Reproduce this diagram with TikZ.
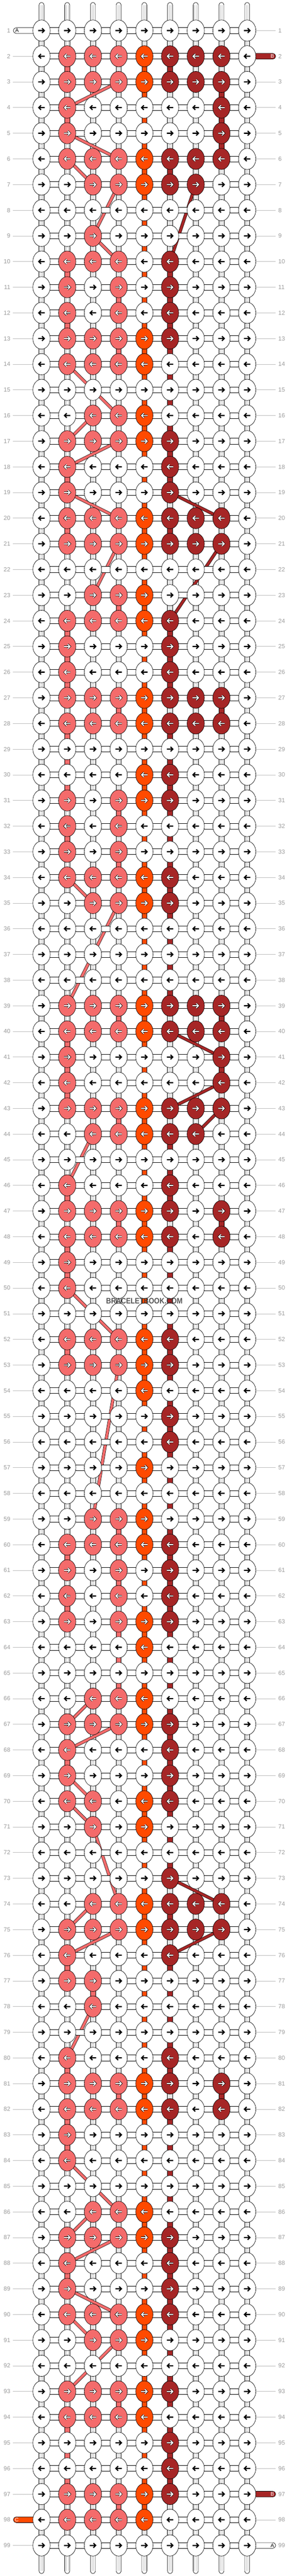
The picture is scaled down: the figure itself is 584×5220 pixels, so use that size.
\documentclass[tikz,border=0pt]{standalone}
\usepackage{fontspec}
\setmainfont{Liberation Sans}
\usetikzlibrary{shapes.geometric}
\definecolor{cP}{HTML}{F46B6B}
\definecolor{cO}{HTML}{FF4A00}
\definecolor{cR}{HTML}{A62626}
\definecolor{lblgrey}{HTML}{9A9A9A}
\definecolor{linegrey}{HTML}{BBBBBB}
\definecolor{tubegrey}{HTML}{C4C4C4}
\definecolor{wmgrey}{HTML}{383838}
\pgfdeclarelayer{bgl}\pgfdeclarelayer{vs}\pgfdeclarelayer{dg}\pgfdeclarelayer{hs}
\pgfsetlayers{bgl,vs,dg,hs,main}
\def\knotrows{%
{W,W,W,W,W,W,W,W,W},{W,P,P,P,O,R,R,R,W},{W,P,P,P,O,R,R,R,W},{W,P,W,W,W,W,W,R,W},{W,P,W,W,W,W,W,R,W},%
{W,P,P,P,O,R,R,R,W},{W,W,P,P,O,R,R,W,W},{W,W,W,W,W,W,W,W,W},{W,W,P,W,W,W,W,W,W},{W,P,P,P,W,R,W,W,W},%
{W,P,W,P,W,R,W,W,W},{W,P,W,P,W,R,W,W,W},{W,P,P,P,O,R,W,W,W},{W,P,P,P,O,W,W,W,W},{W,W,W,W,W,W,W,W,W},%
{W,W,P,P,O,W,W,W,W},{W,P,P,P,O,R,W,W,W},{W,P,W,W,W,R,W,W,W},{W,P,W,W,W,R,W,W,W},{W,P,P,P,O,R,R,R,W},%
{W,P,P,P,O,R,R,R,W},{W,W,W,W,W,W,W,W,W},{W,W,P,P,O,W,W,W,W},{W,P,P,P,O,R,W,W,W},{W,P,W,W,W,R,W,W,W},%
{W,P,W,W,W,R,W,W,W},{W,P,P,P,O,R,R,R,W},{W,P,P,P,O,R,R,R,W},{W,W,W,W,W,W,W,W,W},{W,W,W,W,O,R,W,W,W},%
{W,P,W,P,O,R,W,W,W},{W,P,W,P,W,W,W,W,W},{W,P,W,P,W,W,W,W,W},{W,P,P,P,O,R,W,W,W},{W,W,P,P,O,R,W,W,W},%
{W,W,W,W,W,W,W,W,W},{W,W,W,W,W,W,W,W,W},{W,W,W,W,W,W,W,W,W},{W,P,P,P,O,R,R,R,W},{W,P,P,P,O,R,R,R,W},%
{W,P,W,W,W,W,W,R,W},{W,P,W,W,W,W,W,R,W},{W,P,P,P,O,R,R,R,W},{W,W,P,P,O,R,R,W,W},{W,W,W,W,W,W,W,W,W},%
{W,P,W,W,W,R,W,W,W},{W,P,P,P,O,R,W,R,W},{W,P,P,P,O,R,W,R,W},{W,P,W,W,W,W,W,W,W},{W,P,W,W,W,W,W,W,W},%
{W,W,W,W,W,W,W,W,W},{W,P,P,P,O,R,W,W,W},{W,P,P,P,O,R,W,W,W},{W,W,W,W,O,W,W,W,W},{W,W,W,W,W,R,W,W,W},%
{W,W,W,W,W,R,W,W,W},{W,W,W,W,O,W,W,W,W},{W,W,W,W,W,W,W,W,W},{W,W,P,P,O,W,W,W,W},{W,P,P,P,O,R,W,W,W},%
{W,P,W,P,W,R,W,W,W},{W,P,W,P,W,R,W,W,W},{W,P,W,P,O,R,W,W,W},{W,W,W,W,O,W,W,W,W},{W,W,W,W,W,W,W,W,W},%
{W,W,P,P,O,W,W,W,W},{W,P,P,P,O,R,W,W,W},{W,P,W,W,W,R,W,W,W},{W,P,W,W,W,R,W,W,W},{W,P,P,W,O,R,W,W,W},%
{W,W,P,W,O,W,W,W,W},{W,W,W,W,W,W,W,W,W},{W,W,W,W,W,R,W,W,W},{W,W,P,P,O,R,R,R,W},{W,P,P,P,O,R,R,R,W},%
{W,P,W,W,W,R,W,W,W},{W,P,P,W,W,W,W,W,W},{W,W,P,W,W,W,W,W,W},{W,W,W,W,W,W,W,W,W},{W,P,W,W,W,R,W,W,W},%
{W,P,P,P,O,R,W,R,W},{W,P,P,P,O,R,W,R,W},{W,P,W,W,W,W,W,W,W},{W,P,W,W,W,W,W,W,W},{W,W,W,W,W,W,W,W,W},%
{W,W,P,P,O,W,W,W,W},{W,P,P,P,O,R,W,W,W},{W,P,W,W,W,R,W,W,W},{W,P,W,W,W,R,W,W,W},{W,P,P,P,O,R,W,W,W},%
{W,W,P,P,O,W,W,W,W},{W,W,W,W,W,W,W,W,W},{W,P,P,P,O,R,W,W,W},{W,P,P,P,O,W,W,W,W},{W,W,W,W,W,R,W,W,W},%
{W,W,W,W,W,R,W,W,W},{W,P,P,P,O,R,W,W,W},{W,P,P,P,O,W,W,W,W},{W,W,W,W,W,W,W,W,W}}
\def\pinkstubs{2/2,4/2,10/2,11/4,12/2,13/4,18/2,20/2,23/4,24/2,25/2,26/2,27/4,28/2,29/2,30/2,31/4,32/2,33/4,%
39/4,40/2,41/2,42/2,43/4,46/2,47/4,48/2,49/2,52/2,59/4,60/2,61/4,62/2,63/4,64/4,65/4,68/2,76/2,77/3,80/2,%
81/4,82/2,83/2,88/2,93/4,94/2,95/2,96/2,97/4}
\def\redstubs{2/6,3/8,4/8,5/8,6/6,10/6,11/6,12/6,13/6,14/6,15/6,16/6,17/6,18/6,20/6,24/6,25/6,26/6,27/8,%
28/6,29/6,30/6,31/6,32/6,33/6,34/6,35/6,36/6,37/6,38/6,39/8,41/8,44/6,45/6,46/6,47/8,48/6,49/6,50/6,51/6,%
52/6,53/6,54/6,55/6,56/6,57/6,58/6,59/6,60/6,61/6,62/6,63/6,64/6,65/6,66/6,67/6,68/6,69/6,70/6,71/6,72/6,%
74/6,76/6,77/6,78/6,79/6,80/6,81/8,82/6,83/6,84/6,85/6,86/6,87/6,88/6,89/6,90/6,91/6,92/6,93/6,94/6,95/6,96/6}
\def\pinkdiag{3/4/4/2,5/2/6/4,6/2/7/3,7/4/9/3,9/3/10/4,14/2/16/4,16/3/17/2,17/4/18/2,19/2/20/4,21/4/23/3,%
34/2/35/3,35/4/39/2,44/3/46/2,50/2/52/4,53/4/59/3,66/3/67/2,67/4/68/2,69/2/70/3,70/2/71/3,71/3/74/4,%
74/3/75/2,75/4/76/2,78/3/80/2,84/2/86/4,86/3/87/2,87/4/88/2,89/2/90/4,90/2/91/3,91/4/93/2}
\def\reddiag{7/7/10/6,19/6/20/8,21/8/24/6,40/6/41/8,42/8/43/6,43/8/44/7,73/6/74/8,75/8/76/6}
\begin{document}
\begin{tikzpicture}[x=1pt,y=-1pt,
  knot/.style={ellipse, draw=black, line width=0.7pt, minimum width=35pt, minimum height=43pt, inner sep=0pt},
  knW/.style={fill=white}, knP/.style={fill=cP}, knO/.style={fill=cO}, knR/.style={fill=cR},
  arbase/.style={line join=miter, line cap=butt, miter limit=10},
  arW/.style={arbase, draw=black, line width=2.4pt},
  arcol/.style={arbase, draw=white, line width=2pt, preaction={draw=black, line width=3.6pt}},
  arP/.style={arcol}, arO/.style={arcol}, arR/.style={arcol},
  tube/.style={draw=black, fill=white, line width=0.7pt},
  tubeline/.style={draw=tubegrey, line width=0.6pt},
  hstub/.style={draw=black, fill=white, line width=0.7pt},
  vsP/.style={draw=black, fill=cP, line width=0.7pt},
  vsR/.style={draw=black, fill=cR, line width=0.7pt},
  vsO/.style={draw=black, fill=cO, line width=0.7pt},
  dgP/.style={draw=cP, line width=5pt, preaction={draw=black, line width=6.4pt}},
  dgR/.style={draw=cR, line width=5pt, preaction={draw=black, line width=6.4pt}},
  lbl/.style={text=lblgrey, font=\fontsize{12}{12}\selectfont, inner sep=0pt},
  rowline/.style={draw=linegrey, line width=0.7pt},
  tailtxt/.style={font=\fontsize{10.5}{10.5}\selectfont, inner sep=0pt}
]
\useasboundingbox (0,0) rectangle (584,5220);
\begin{pgfonlayer}{bgl}
\fill[white] (0,0) rectangle (584,5220);
\end{pgfonlayer}
% knots
\foreach \row [count=\r] in \knotrows {
  \ifodd\r \def\sg{1}\else\def\sg{-1}\fi
  \foreach \k [count=\c] in \row {
    \node[knot, kn\k] (k-\r-\c) at ({84+52*(\c-1)},{62+52*(\r-1)}) {};
    \draw[ar\k, shift={(k-\r-\c.center)}, xscale=\sg] (-6.5,0) -- (5,0) (1,-4.6) -- (5.6,0) -- (1,4.6);
  }
}
% labels and row lines
\foreach \r in {1,...,99} {
  \node[lbl, anchor=east] (ll-\r) at (21,{62+52*(\r-1)}) {\r};
  \node[lbl, anchor=west] (lr-\r) at (563,{62+52*(\r-1)}) {\r};
}
\foreach \r in {2,...,97,99} \draw[rowline] ([xshift=5pt]ll-\r.east) -- (k-\r-1.west);
\foreach \r in {1,3,4,...,96,98} \draw[rowline] (k-\r-9.east) -- ([xshift=-5pt]lr-\r.west);
% vertical stubs and tails
\begin{pgfonlayer}{vs}
\foreach \r in {1,...,98} {
  \pgfmathtruncatemacro\rr{\r+1}
  \foreach \c in {1,...,9} {
    \draw[tube] ([xshift=-5pt]k-\r-\c.center) rectangle ([xshift=5pt]k-\rr-\c.center);
    \draw[tubeline] ([xshift=-1.7pt]k-\r-\c.center) -- ([xshift=-1.7pt]k-\rr-\c.center)
                    ([xshift=1.7pt]k-\r-\c.center) -- ([xshift=1.7pt]k-\rr-\c.center);
  }
}
\foreach \r/\c in \pinkstubs {
  \pgfmathtruncatemacro\rr{\r+1}
  \draw[vsP] ([xshift=-5pt]k-\r-\c.center) rectangle ([xshift=5pt]k-\rr-\c.center);
}
\foreach \r/\c in \redstubs {
  \pgfmathtruncatemacro\rr{\r+1}
  \draw[vsR] ([xshift=-5pt]k-\r-\c.center) rectangle ([xshift=5pt]k-\rr-\c.center);
}
\foreach \r in {2,...,97} {
  \pgfmathtruncatemacro\rr{\r+1}
  \draw[vsO] ([xshift=-5pt]k-\r-5.center) rectangle ([xshift=5pt]k-\rr-5.center);
}
\foreach \c in {1,...,9} {
  \coordinate (tt-\c) at ({84+52*(\c-1)},5);
  \coordinate (tb-\c) at ({84+52*(\c-1)},5215);
  \draw[tube] ([xshift=-5pt]k-1-\c.center) -- ([shift={(-5,5)}]tt-\c) arc[start angle=180, end angle=360, radius=5] -- ([xshift=5pt]k-1-\c.center) -- cycle;
  \draw[tubeline] ([xshift=-1.7pt]k-1-\c.center) -- ([shift={(-1.7,5)}]tt-\c) ([xshift=1.7pt]k-1-\c.center) -- ([shift={(1.7,5)}]tt-\c);
  \draw[tube] ([xshift=-5pt]k-99-\c.center) -- ([shift={(-5,-5)}]tb-\c) arc[start angle=180, end angle=0, radius=5] -- ([xshift=5pt]k-99-\c.center) -- cycle;
  \draw[tubeline] ([xshift=-1.7pt]k-99-\c.center) -- ([shift={(-1.7,-5)}]tb-\c) ([xshift=1.7pt]k-99-\c.center) -- ([shift={(1.7,-5)}]tb-\c);
}
\end{pgfonlayer}
% diagonal strands
\begin{pgfonlayer}{dg}
\foreach \a/\b/\p/\q in \pinkdiag \draw[dgP] (k-\a-\b.center) -- (k-\p-\q.center);
\foreach \a/\b/\p/\q in \reddiag \draw[dgR] (k-\a-\b.center) -- (k-\p-\q.center);
\end{pgfonlayer}
% horizontal stubs and side tails
\begin{pgfonlayer}{hs}
\foreach \r in {1,...,99} {
  \foreach \c in {1,...,8} {
    \pgfmathtruncatemacro\cc{\c+1}
    \draw[hstub] ([yshift=5.8pt]k-\r-\c.center) rectangle ([yshift=-5.8pt]k-\r-\cc.center);
  }
}
\coordinate (sA1) at (27,62);
\coordinate (sB2) at (557.7,114);
\coordinate (sB97) at (557.7,5054);
\coordinate (sC98) at (27,5106);
\coordinate (sA99) at (557.7,5158);
\draw[hstub, rounded corners=5.8pt] ([yshift=5.8pt]sA1) rectangle ([yshift=-5.8pt]k-1-1.center);
\draw[draw=black, fill=cR, line width=0.7pt, rounded corners=5.8pt] ([yshift=5.8pt]k-2-9.center) rectangle ([yshift=-5.8pt]sB2);
\draw[draw=black, fill=cR, line width=0.7pt, rounded corners=5.8pt] ([yshift=5.8pt]k-97-9.center) rectangle ([yshift=-5.8pt]sB97);
\draw[draw=black, fill=cO, line width=0.7pt, rounded corners=5.8pt] ([yshift=5.8pt]sC98) rectangle ([yshift=-5.8pt]k-98-1.center);
\draw[hstub, rounded corners=5.8pt] ([yshift=5.8pt]k-99-9.center) rectangle ([yshift=-5.8pt]sA99);
\end{pgfonlayer}
\node[tailtxt, text=black] (tA1) at (34.5,62) {A};
\node[tailtxt, text=white] (tB2) at (551,114) {B};
\node[tailtxt, text=white] (tB97) at (551,5054) {B};
\node[tailtxt, text=white] (tC98) at (34,5106) {C};
\node[tailtxt, text=black] (tA99) at (551,5158) {A};
% watermark
\node[font=\bfseries\fontsize{14}{14}\selectfont, text=wmgrey, opacity=0.85, inner sep=0pt] (wm) at (292,2636) {\scalebox{1}[1.15]{BRACELETBOOK.COM}};
\end{tikzpicture}
\end{document}
